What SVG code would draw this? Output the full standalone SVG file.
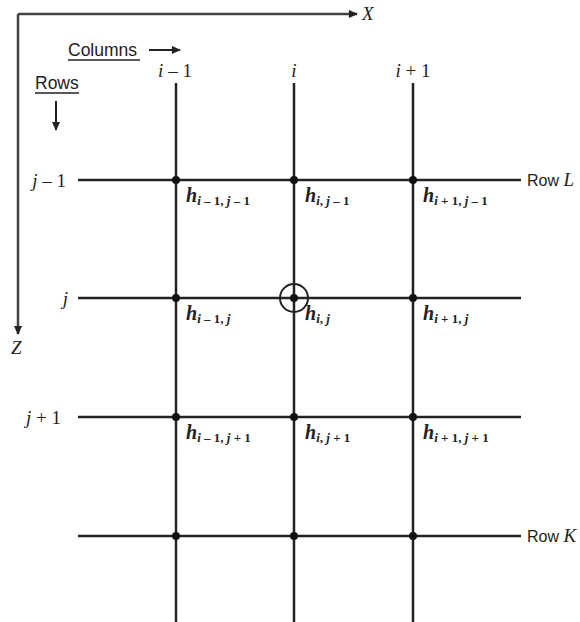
<svg xmlns="http://www.w3.org/2000/svg" width="580" height="622" viewBox="0 0 580 622">
<style>
.ax{stroke:#444;stroke-width:2.5;fill:none}
.g{stroke:#222;stroke-width:2.5;fill:none}
.m{font-family:"Liberation Serif",serif;font-style:italic;font-size:19px;fill:#222}
.n{font-family:"Liberation Serif",serif;font-style:normal}
.s{font-family:"Liberation Sans",sans-serif;font-size:17.5px;fill:#222}
.rl{font-family:"Liberation Sans",sans-serif;font-size:16px;fill:#222}
.h{font-family:"Liberation Serif",serif;font-style:italic;font-weight:bold;font-size:20px;fill:#222}
.sub{font-size:13px}
</style>
<defs>
<marker id="ah" viewBox="0 0 10 10" refX="9" refY="5" markerWidth="11" markerHeight="9" orient="auto" markerUnits="userSpaceOnUse">
<path d="M0,0.5 L10,5 L0,9.5 z" fill="#222"/>
</marker>
</defs>
<g id="axes">
<path class="ax" d="M18,14 L357,14" marker-end="url(#ah)"/>
<path class="ax" d="M18,14 L18,334" marker-end="url(#ah)"/>
<text class="m" x="362" y="20">X</text>
<text class="m" x="11" y="354">Z</text>
</g>
<g id="legend">
<text class="s" x="68" y="56">Columns</text>
<line x1="68" y1="60" x2="140" y2="60" stroke="#222" stroke-width="1.4"/>
<line x1="149" y1="50" x2="180" y2="50" stroke="#222" stroke-width="2" marker-end="url(#ah)"/>
<text class="s" x="35" y="89">Rows</text>
<line x1="35" y1="93" x2="79" y2="93" stroke="#222" stroke-width="1.4"/>
<line x1="56" y1="101" x2="56" y2="130" stroke="#222" stroke-width="2" marker-end="url(#ah)"/>
</g>
<g id="connectors">
<line class="g" x1="176" y1="83" x2="176" y2="622"/>
<line class="g" x1="294" y1="83" x2="294" y2="622"/>
<line class="g" x1="413" y1="83" x2="413" y2="622"/>
<line class="g" x1="78" y1="180" x2="521" y2="180"/>
<line class="g" x1="78" y1="298" x2="521" y2="298"/>
<line class="g" x1="78" y1="417" x2="521" y2="417"/>
<line class="g" x1="78" y1="536" x2="521" y2="536"/>
</g>
<g id="col-labels">
<text class="m" x="175" y="77" text-anchor="middle">i <tspan class="n">– 1</tspan></text>
<text class="m" x="294" y="77" text-anchor="middle">i</text>
<text class="m" x="413" y="77" text-anchor="middle">i <tspan class="n">+ 1</tspan></text>
</g>
<g id="row-labels">
<text class="m" x="66" y="187" text-anchor="end">j <tspan class="n">– 1</tspan></text>
<text class="m" x="68" y="305" text-anchor="end">j</text>
<text class="m" x="61" y="424" text-anchor="end">j <tspan class="n">+ 1</tspan></text>
<text class="rl" x="527" y="186">Row <tspan class="m">L</tspan></text>
<text class="rl" x="527" y="542">Row <tspan class="m">K</tspan></text>
</g>
<g id="nodes" fill="#111">
<circle cx="176" cy="180" r="4"/><circle cx="294" cy="180" r="4"/><circle cx="413" cy="180" r="4"/>
<circle cx="176" cy="298" r="4"/><circle cx="294" cy="298" r="4"/><circle cx="413" cy="298" r="4"/>
<circle cx="176" cy="417" r="4"/><circle cx="294" cy="417" r="4"/><circle cx="413" cy="417" r="4"/>
<circle cx="176" cy="536" r="4"/><circle cx="294" cy="536" r="4"/><circle cx="413" cy="536" r="4"/>
<circle cx="294" cy="298" r="14" fill="none" stroke="#222" stroke-width="2"/>
</g>
<g id="h-labels">
<text class="h" x="186" y="202">h<tspan class="sub" dy="3">i <tspan class="n">– 1,</tspan> j <tspan class="n">– 1</tspan></tspan></text>
<text class="h" x="305" y="202">h<tspan class="sub" dy="3">i<tspan class="n">,</tspan> j <tspan class="n">– 1</tspan></tspan></text>
<text class="h" x="423" y="202">h<tspan class="sub" dy="3">i <tspan class="n">+ 1,</tspan> j <tspan class="n">– 1</tspan></tspan></text>
<text class="h" x="186" y="320">h<tspan class="sub" dy="3">i <tspan class="n">– 1,</tspan> j</tspan></text>
<text class="h" x="305" y="320">h<tspan class="sub" dy="3">i<tspan class="n">,</tspan> j</tspan></text>
<text class="h" x="423" y="320">h<tspan class="sub" dy="3">i <tspan class="n">+ 1,</tspan> j</tspan></text>
<text class="h" x="186" y="439">h<tspan class="sub" dy="3">i <tspan class="n">– 1,</tspan> j <tspan class="n">+ 1</tspan></tspan></text>
<text class="h" x="305" y="439">h<tspan class="sub" dy="3">i<tspan class="n">,</tspan> j <tspan class="n">+ 1</tspan></tspan></text>
<text class="h" x="423" y="439">h<tspan class="sub" dy="3">i <tspan class="n">+ 1,</tspan> j <tspan class="n">+ 1</tspan></tspan></text>
</g>
</svg>
